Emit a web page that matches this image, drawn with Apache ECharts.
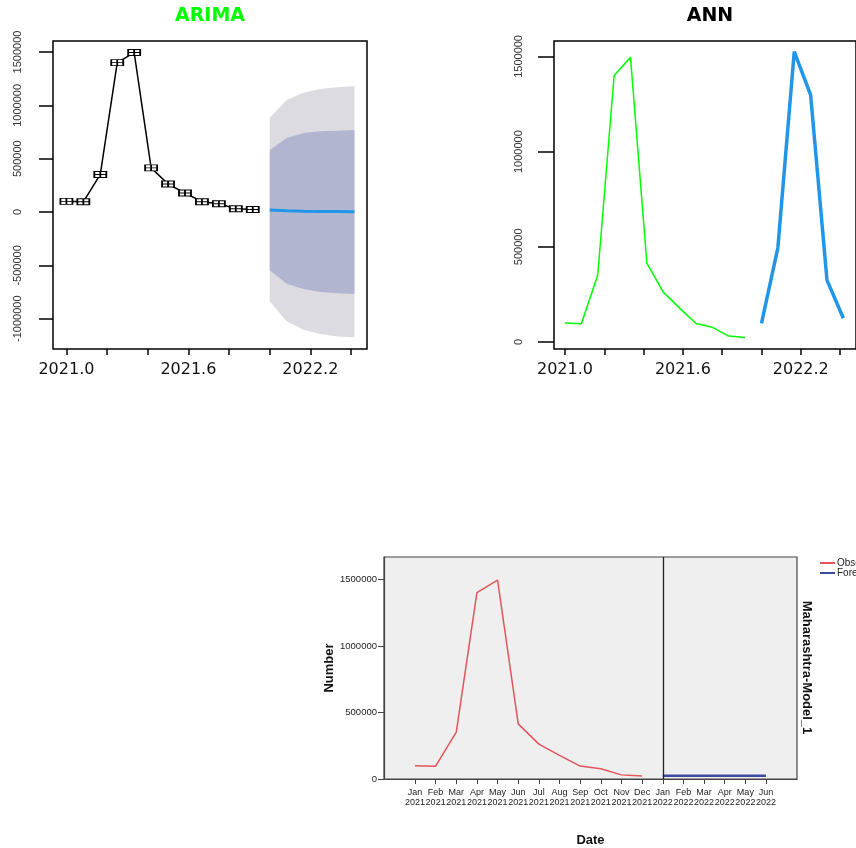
<!DOCTYPE html>
<html>
<head>
<meta charset="utf-8">
<script src="https://cdn.jsdelivr.net/npm/echarts@6/dist/echarts.min.js"></script>
<style>html,body{margin:0;padding:0;background:#fff}#c{width:856px;height:848px}</style>
</head>
<body>
<div id="c"></div>
<script>
// ---- data ----
const obsTime = [2021.0, 2021.0833, 2021.1667, 2021.25, 2021.3333, 2021.4167, 2021.5, 2021.5833, 2021.6667, 2021.75, 2021.8333, 2021.9167];
const fcTime = [2022.0, 2022.0833, 2022.1667, 2022.25, 2022.3333, 2022.4167];
const observed = [100000, 96000, 352000, 1400000, 1495000, 414000, 262000, 178000, 97000, 77000, 31000, 23000];
const arimaForecast = [19000, 12000, 7000, 5000, 4000, 3000];
const arimaHi95 = [881000, 1050000, 1118000, 1154000, 1170000, 1178000];
const arimaHi80 = [578000, 694000, 741000, 756000, 762000, 769000];
const arimaLo80 = [-547000, -672000, -722000, -750000, -762000, -769000];
const arimaLo95 = [-837000, -1025000, -1103000, -1144000, -1166000, -1175000];
const annForecast = [98000, 495000, 1525000, 1298000, 325000, 125000];
const spssObsMonths = ['Jan 2021','Feb 2021','Mar 2021','Apr 2021','May 2021','Jun 2021','Jul 2021','Aug 2021','Sep 2021','Oct 2021','Nov 2021','Dec 2021'];
const spssFcMonths = ['Jan 2022','Feb 2022','Mar 2022','Apr 2022','May 2022','Jun 2022'];
const spssForecast = [25000, 25000, 25000, 25000, 25000, 25000];
const topXTicks = [2021.0, 2021.2, 2021.4, 2021.6, 2021.8, 2022.0, 2022.2, 2022.4];
const topXLabels = [2021.0, 2021.6, 2022.2];
const arimaYTicks = [-1000000, -500000, 0, 500000, 1000000, 1500000];
const annYTicks = [0, 500000, 1000000, 1500000];
const spssYTicks = [0, 500000, 1000000, 1500000];

// ---- build ----
const categories = [''].concat(spssObsMonths, spssFcMonths, ['']);
const zip = (xs, ys) => xs.map((x, i) => [x, ys[i]]);

function band(lo, hi, color) {
  return function (params, api) {
    if (params.dataIndex !== 0) return null;
    const pts = [];
    for (let i = 0; i < fcTime.length; i++) pts.push(api.coord([fcTime[i], hi[i]]));
    for (let i = fcTime.length - 1; i >= 0; i--) pts.push(api.coord([fcTime[i], lo[i]]));
    return { type: 'polygon', shape: { points: pts }, style: { fill: color } };
  };
}

const topTick = (vals, len) => ({ show: true, customValues: vals, length: len, lineStyle: { color: '#000', width: 1.5 } });
const topYLabel = (vals) => ({ customValues: vals, rotate: 90, fontSize: 11, margin: 30, color: '#333', fontFamily: 'Liberation Sans', formatter: v => String(v) });
const topXLabel = { customValues: topXLabels, formatter: v => v.toFixed(1), fontSize: 16, fontFamily: 'DejaVu Sans', color: '#111', margin: 13 };

const chart = echarts.init(document.getElementById('c'));
chart.setOption({
  animation: false,
  backgroundColor: '#fff',
  title: [
    { text: 'ARIMA', left: 210, top: 7, textAlign: 'center', padding: 0,
      textStyle: { color: '#00FF00', fontSize: 19, fontWeight: 'bold', fontFamily: 'DejaVu Sans' } },
    { text: 'ANN', left: 710, top: 7, textAlign: 'center', padding: 0,
      textStyle: { color: '#000', fontSize: 19, fontWeight: 'bold', fontFamily: 'DejaVu Sans' } }
  ],
  legend: {
    data: ['Observed', 'Forecast'],
    orient: 'vertical', left: 820, top: 558, icon: 'rect',
    itemWidth: 15, itemHeight: 2, itemGap: 0, padding: 0,
    textStyle: { fontSize: 10, color: '#222', fontFamily: 'Liberation Sans', padding: [0, 0, 0, -3] }
  },
  grid: [
    { left: 53, top: 41, width: 314, height: 308, show: true, borderColor: '#000', borderWidth: 1.5, backgroundColor: '#fff' },
    { left: 554, top: 41, width: 314, height: 308, show: true, borderColor: '#000', borderWidth: 1.5, backgroundColor: '#fff' },
    { left: 384, top: 557, width: 413, height: 224, show: true, borderColor: '#444', borderWidth: 1.2, backgroundColor: '#EFEFEF' }
  ],
  xAxis: [
    { gridIndex: 0, type: 'value', min: 2020.934, max: 2022.4786, axisLine: { show: false, onZero: false },
      splitLine: { show: false }, axisTick: topTick(topXTicks, 6), axisLabel: topXLabel },
    { gridIndex: 1, type: 'value', min: 2020.944, max: 2022.481, axisLine: { show: false, onZero: false },
      splitLine: { show: false }, axisTick: topTick(topXTicks, 6), axisLabel: topXLabel },
    { gridIndex: 2, type: 'category', data: categories, boundaryGap: true,
      name: 'Date', nameLocation: 'middle', nameGap: 55,
      nameTextStyle: { fontSize: 13, fontWeight: 'bold', color: '#111', fontFamily: 'Liberation Sans' },
      axisLine: { show: true, onZero: false, lineStyle: { color: '#444', width: 1.2 } },
      axisTick: { show: true, alignWithLabel: true, length: 5, interval: (i, v) => v !== '', lineStyle: { color: '#444' } },
      axisLabel: { interval: 0, fontSize: 9, lineHeight: 10, margin: 9, color: '#222', fontFamily: 'Liberation Sans',
        formatter: v => v.replace(' ', '\n') } }
  ],
  yAxis: [
    { gridIndex: 0, type: 'value', min: -1284000, max: 1603000, axisLine: { show: false, onZero: false },
      splitLine: { show: false }, axisTick: topTick(arimaYTicks, 14), axisLabel: topYLabel(arimaYTicks) },
    { gridIndex: 1, type: 'value', min: -36800, max: 1581000, axisLine: { show: false, onZero: false },
      splitLine: { show: false }, axisTick: topTick(annYTicks, 16), axisLabel: topYLabel(annYTicks) },
    { gridIndex: 2, type: 'value', min: 0, max: 1668000,
      name: 'Number', nameLocation: 'middle', nameGap: 48,
      nameTextStyle: { fontSize: 13, fontWeight: 'bold', color: '#111', fontFamily: 'Liberation Sans' },
      axisLine: { show: true, lineStyle: { color: '#444', width: 1.2 } },
      axisTick: { show: true, customValues: spssYTicks, length: 6, lineStyle: { color: '#444' } },
      splitLine: { show: false },
      axisLabel: { customValues: spssYTicks, fontSize: 9.5, margin: 7, color: '#222', fontFamily: 'Liberation Sans',
        formatter: v => String(v) } }
  ],
  series: [
    { name: 'ARIMA 95%', type: 'custom', xAxisIndex: 0, yAxisIndex: 0, clip: true,
      data: fcTime.map((t, i) => [t, arimaLo95[i], arimaHi95[i]]), renderItem: band(arimaLo95, arimaHi95, '#DBDBE1'), z: 1 },
    { name: 'ARIMA 80%', type: 'custom', xAxisIndex: 0, yAxisIndex: 0, clip: true,
      data: fcTime.map((t, i) => [t, arimaLo80[i], arimaHi80[i]]), renderItem: band(arimaLo80, arimaHi80, '#B1B5D0'), z: 2 },
    { name: 'ARIMA observed', type: 'line', xAxisIndex: 0, yAxisIndex: 0, data: zip(obsTime, observed),
      lineStyle: { color: '#000', width: 1.5 }, showAllSymbol: true,
      symbol: 'path://M0,0H12V6H0Z M6,0V6 M0,3H12', symbolSize: [12, 6], symbolKeepAspect: false,
      itemStyle: { color: '#fff', borderColor: '#000', borderWidth: 1.3 }, z: 3 },
    { name: 'ARIMA forecast', type: 'line', xAxisIndex: 0, yAxisIndex: 0, data: zip(fcTime, arimaForecast),
      symbol: 'none', lineStyle: { color: '#2196E8', width: 3 }, z: 4 },
    { name: 'ANN observed', type: 'line', xAxisIndex: 1, yAxisIndex: 1, data: zip(obsTime, observed),
      symbol: 'none', lineStyle: { color: '#00FF00', width: 1.5 } },
    { name: 'ANN forecast', type: 'line', xAxisIndex: 1, yAxisIndex: 1, data: zip(fcTime, annForecast),
      symbol: 'none', lineStyle: { color: '#2196E8', width: 3.5 } },
    { name: 'Observed', type: 'line', xAxisIndex: 2, yAxisIndex: 2, data: zip(spssObsMonths, observed),
      symbol: 'none', color: '#E4555B', lineStyle: { color: '#E4555B', width: 1.5 } },
    { name: 'Forecast', type: 'line', xAxisIndex: 2, yAxisIndex: 2, data: zip(spssFcMonths, spssForecast),
      symbol: 'none', color: '#3B4BA0', lineStyle: { color: '#3B4BA0', width: 2.5 },
      markLine: { silent: true, symbol: 'none', label: { show: false },
        lineStyle: { color: '#222', width: 1.3, type: 'solid' },
        data: [{ xAxis: spssFcMonths[0] }] } }
  ],
  graphic: [
    { type: 'text', x: 807, y: 667.5, rotation: -Math.PI / 2,
      style: { text: 'Maharashtra-Model_1', fontSize: 13, fontWeight: 'bold', fontFamily: 'Liberation Sans',
        fill: '#111', align: 'center', verticalAlign: 'middle' } }
  ]
});
</script>
</body>
</html>
